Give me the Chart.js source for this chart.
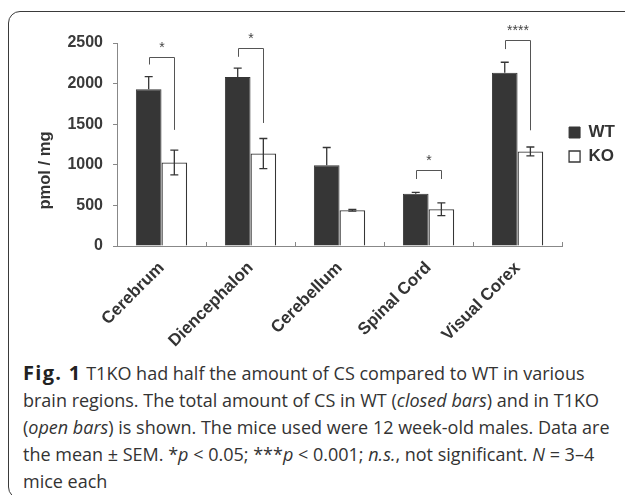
<!DOCTYPE html>
<html>
<head>
<meta charset="utf-8">
<script src="https://cdn.jsdelivr.net/npm/chart.js@4"></script>
<style>
  html, body { margin: 0; padding: 0; background: #fff; }
  body { width: 625px; height: 495px; position: relative; overflow: hidden; }
  #frame {
    position: absolute; left: 8px; top: 11px; width: 700px; height: 486px;
    border: 1.5px solid #3a3a3a; border-radius: 12px;
  }
  #wrap { position: absolute; left: 0; top: 0; width: 625px; height: 350px; }
  #caption {
    position: absolute; left: 23px; top: 359px;
    font-family: "Open Sans", "Noto Sans", sans-serif; font-size: 18px; line-height: 27px;
    color: #333; white-space: nowrap;
  }
  #caption b { font-weight: 700; color: #222; font-size: 20px; letter-spacing: 1.3px; }
</style>
</head>
<body>
<div id="frame"></div>
<div id="wrap"><canvas id="mycanvas"></canvas></div>
<div id="caption">
  <b>Fig. 1</b> T1KO had half the amount of CS compared to WT in various<br>
  brain regions. The total amount of CS in WT (<i>closed bars</i>) and in T1KO<br>
  (<i>open bars</i>) is shown. The mice used were 12 week-old males. Data are<br>
  the mean ± SEM. *<i>p</i> &lt; 0.05; ***<i>p</i> &lt; 0.001; <i>n.s.</i>, not significant. <i>N</i> = 3–4<br>
  mice each
</div>
<script>
var regions = ['Cerebrum', 'Diencephalon', 'Cerebellum', 'Spinal Cord', 'Visual Corex'];
var wtMean = [1930, 2080, 995, 645, 2135];
var wtSem = [155, 110, 218, 15, 128];
var koMean = [1028, 1139, 440, 452, 1164];
var koSem = [152, 185, 10, 78, 55];
var yTicks = [0, 500, 1000, 1500, 2000, 2500];
var yTitle = 'pmol / mg';

// significance brackets (region index, bracket top, left leg end, right leg end, mark)
var sigRegion = [0, 1, 3, 4];
var sigTop = [2330, 2435, 930, 2535];
var sigLeftEnd = [2235, 2330, 825, 2425];
var sigRightEnd = [1430, 1515, 825, 1425];
var sigMark = ['*', '*', '*', '****'];

var dark = '#363636';
var font = '"Liberation Sans", Arial, sans-serif';

var extras = {
	id: 'extras',
	afterDatasetsDraw: function(chart) {
		var ctx = chart.ctx;
		var y = chart.scales.y;
		var x = chart.scales.x;
		ctx.save();

		// inward tick marks on the category axis
		ctx.strokeStyle = '#888';
		ctx.lineWidth = 1;
		for (var i = 0; i <= regions.length; i++) {
			var px = Math.round(x.getPixelForValue(i - 0.5)) + 0.5;
			ctx.beginPath();
			ctx.moveTo(px, y.bottom);
			ctx.lineTo(px, y.bottom - 4);
			ctx.stroke();
		}

		// error bars
		ctx.strokeStyle = dark;
		ctx.lineWidth = 1.3;
		var wtBars = chart.getDatasetMeta(0).data;
		var koBars = chart.getDatasetMeta(1).data;
		for (var j = 0; j < regions.length; j++) {
			var bx = wtBars[j].x;
			var top = y.getPixelForValue(wtMean[j] + wtSem[j]);
			ctx.beginPath();
			ctx.moveTo(bx, y.getPixelForValue(wtMean[j]));
			ctx.lineTo(bx, top);
			ctx.moveTo(bx - 4, top);
			ctx.lineTo(bx + 4, top);
			ctx.stroke();

			bx = koBars[j].x;
			var hi = y.getPixelForValue(koMean[j] + koSem[j]);
			var lo = y.getPixelForValue(koMean[j] - koSem[j]);
			ctx.beginPath();
			ctx.moveTo(bx, hi);
			ctx.lineTo(bx, lo);
			ctx.moveTo(bx - 4, hi);
			ctx.lineTo(bx + 4, hi);
			ctx.moveTo(bx - 4, lo);
			ctx.lineTo(bx + 4, lo);
			ctx.stroke();
		}

		// significance brackets
		ctx.strokeStyle = '#555';
		ctx.lineWidth = 1;
		ctx.fillStyle = '#444';
		ctx.font = '14px ' + font;
		ctx.textAlign = 'center';
		ctx.textBaseline = 'bottom';
		for (var k = 0; k < sigRegion.length; k++) {
			var r = sigRegion[k];
			var lx = Math.round(wtBars[r].x) + 0.5;
			var rx = Math.round(koBars[r].x) + 0.5;
			var ty = Math.round(y.getPixelForValue(sigTop[k])) + 0.5;
			ctx.beginPath();
			ctx.moveTo(lx, y.getPixelForValue(sigLeftEnd[k]));
			ctx.lineTo(lx, ty);
			ctx.lineTo(rx, ty);
			ctx.lineTo(rx, y.getPixelForValue(sigRightEnd[k]));
			ctx.stroke();
			ctx.fillText(sigMark[k], (lx + rx) / 2, ty - 2);
		}

		// y axis title, sitting a little below the middle of the axis like the original
		ctx.translate(45, (y.top + y.bottom) / 2 + 26);
		ctx.rotate(-Math.PI / 2);
		ctx.fillStyle = '#333';
		ctx.font = 'bold 16.5px ' + font;
		ctx.textBaseline = 'middle';
		ctx.fillText(yTitle, 0, 0);
		ctx.restore();
	}
};

var ctx = document.getElementById('mycanvas');

var barGraph = new Chart(ctx, {
	type: 'bar',
	data: {
		labels: regions,
		datasets: [
			{
				label: 'WT',
				data: wtMean,
				backgroundColor: dark,
				borderColor: dark,
				borderWidth: 1,
				categoryPercentage: 0.576,
				barPercentage: 1.0
			},
			{
				label: 'KO',
				data: koMean,
				backgroundColor: '#ffffff',
				borderColor: dark,
				borderWidth: 1.3,
				categoryPercentage: 0.576,
				barPercentage: 1.0
			}
		]
	},
	options: {
		responsive: true,
		maintainAspectRatio: false,
		animation: false,
		layout: { padding: { left: 31, top: 43, right: 0, bottom: 0 } },
		plugins: {
			legend: {
				position: 'right',
				fullSize: false,
				labels: {
					boxWidth: 11,
					boxHeight: 11,
					padding: 7,
					color: '#333',
					font: { family: font, size: 17, weight: 'bold' }
				}
			},
			tooltip: { enabled: false }
		},
		scales: {
			x: {
				grid: { display: false },
				border: { color: '#888' },
				ticks: {
					minRotation: 45,
					maxRotation: 45,
					color: '#333',
					padding: 4,
					font: { family: font, size: 17, weight: 'bold' }
				},
				afterFit: function(scale) { scale.height = 104; }
			},
			y: {
				min: 0,
				max: 2500,
				afterBuildTicks: function(scale) {
					scale.ticks = yTicks.map(function(v) { return { value: v }; });
				},
				grid: { drawOnChartArea: false, tickLength: 4, color: '#888' },
				border: { color: '#888' },
				ticks: {
					color: '#3a3a3a',
					padding: 10,
					callback: function(v) { return String(v); },
					font: { family: font, size: 16, weight: 'bold' }
				},
				afterFit: function(scale) { scale.width = 86; }
			}
		}
	},
	plugins: [extras]
});
</script>
</body>
</html>
